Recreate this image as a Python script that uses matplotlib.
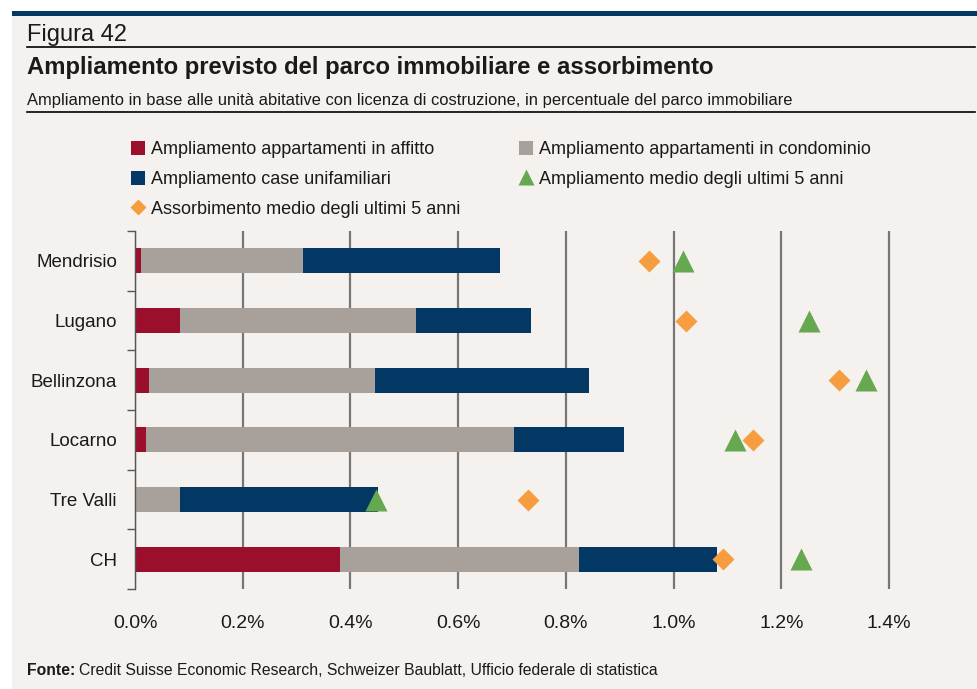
import numpy as np
import matplotlib.pyplot as plt
from matplotlib.patches import Patch, Rectangle
from matplotlib.lines import Line2D

plt.rcParams['font.family'] = ['Liberation Sans', 'DejaVu Sans']

W, H = 978, 689

# Data (percent of housing stock)
regions = ['Mendrisio', 'Lugano', 'Bellinzona', 'Locarno', 'Tre Valli', 'CH']
rental = [0.011, 0.084, 0.026, 0.020, 0.0, 0.381]
condo = [0.301, 0.438, 0.420, 0.684, 0.084, 0.443]
single = [0.366, 0.213, 0.397, 0.204, 0.367, 0.257]
growth_5y = [1.017, 1.252, 1.357, 1.114, 0.448, 1.236]
absorption_5y = [0.954, 1.023, 1.308, 1.148, 0.729, 1.091]
xticks = [0.0, 0.2, 0.4, 0.6, 0.8, 1.0, 1.2, 1.4]

labels = ['Ampliamento appartamenti in affitto',
          'Ampliamento appartamenti in condominio',
          'Ampliamento case unifamiliari',
          'Ampliamento medio degli ultimi 5 anni',
          'Assorbimento medio degli ultimi 5 anni']

# Colours
bg = '#f4f1ee'
red = '#9b0e2c'
grey = '#a8a19b'
navy = '#033764'
orange = '#f59d3f'
green = '#66a84f'
txt = '#1a1a1a'


def fx(px):
    return px / W


def fy(py):
    return 1 - py / H


fig = plt.figure(figsize=(W / 100, H / 100), dpi=100)
fig.patch.set_facecolor('white')

# Page background, top band and rules
fig.add_artist(Rectangle((fx(12), 0), 1, fy(16), transform=fig.transFigure,
                         facecolor=bg, edgecolor='none', zorder=0))
fig.add_artist(Rectangle((fx(12), fy(16)), 1, 5 / H, transform=fig.transFigure,
                         facecolor=navy, edgecolor='none', zorder=0))
for py in (47, 112):
    fig.add_artist(Line2D([fx(27), fx(975)], [fy(py), fy(py)], color='black',
                          lw=1.2, transform=fig.transFigure))

fig.text(fx(27), fy(41), 'Figura 42', fontsize=17, color=txt, va='baseline')
fig.text(fx(27), fy(74), 'Ampliamento previsto del parco immobiliare e assorbimento',
         fontsize=17.2, fontweight='bold', color=txt, va='baseline')
fig.text(fx(27), fy(105), 'Ampliamento in base alle unità abitative con licenza di '
         'costruzione, in percentuale del parco immobiliare',
         fontsize=11.9, color=txt, va='baseline')

# Chart
xmax = 1.403
ax = fig.add_axes([fx(135), fy(589), (889 - 135) / W * xmax / 1.4, (589 - 231) / H])
ax.set_facecolor('none')

y = np.arange(len(regions))
rental = np.array(rental)
condo = np.array(condo)
single = np.array(single)
bar_h = 0.42
ax.barh(y, rental, height=bar_h, color=red, zorder=3)
ax.barh(y, condo, left=rental, height=bar_h, color=grey, zorder=3)
ax.barh(y, single, left=rental + condo, height=bar_h, color=navy, zorder=3)
ax.plot(absorption_5y, y, ls='none', marker='D', ms=11.7, color=orange,
        mec='none', zorder=4)
ax.plot(growth_5y, y, ls='none', marker='^', ms=15.5, color=green,
        mec='none', zorder=4)

ax.set_xlim(0, xmax)
ax.set_ylim(len(regions) - 0.5, -0.5)
ax.set_xticks(xticks)
ax.set_xticklabels([f'{v:.1f}%' for v in xticks])
ax.set_yticks(y)
ax.set_yticklabels(regions)
ax.set_yticks(np.arange(-0.5, len(regions), 1), minor=True)

ax.grid(axis='x', color='#767676', lw=1.6, zorder=1)
ax.set_axisbelow(True)
for s in ('top', 'right', 'bottom'):
    ax.spines[s].set_visible(False)
ax.spines['left'].set_color('#555555')
ax.spines['left'].set_linewidth(1)
ax.spines['left'].set_zorder(5)

ax.tick_params(axis='x', length=0, pad=19, labelsize=14, labelcolor=txt)
ax.tick_params(axis='y', which='major', length=0, pad=13, labelsize=13.5,
               labelcolor=txt)
ax.tick_params(axis='y', which='minor', length=6, width=1, color='#555555')

# Legend in two columns
sq = dict(edgecolor='none')
col1 = [Patch(facecolor=red, **sq),
        Patch(facecolor=navy, **sq),
        Line2D([], [], ls='none', marker='D', ms=8.5, color=orange, mec='none')]
col2 = [Patch(facecolor=grey, **sq),
        Line2D([], [], ls='none', marker='^', ms=11, color=green, mec='none')]
lab1 = [labels[0], labels[2], labels[4]]
lab2 = [labels[1], labels[3]]
leg_kw = dict(loc='upper left', frameon=False, fontsize=13, borderpad=0,
              borderaxespad=0, handlelength=0.8, handleheight=0.8,
              handletextpad=0.3, labelspacing=0.7, labelcolor=txt)
fig.legend(col1, lab1, bbox_to_anchor=(fx(131), fy(141)), **leg_kw)
fig.legend(col2, lab2, bbox_to_anchor=(fx(519), fy(141)), **leg_kw)

# Source line
fig.canvas.draw()
src_b = fig.text(fx(27), fy(675), 'Fonte:', fontsize=11.3, fontweight='bold',
                 color=txt, va='baseline')
bb = src_b.get_window_extent(renderer=fig.canvas.get_renderer())
fig.text(bb.x1 / W + 4 / W, fy(675),
         'Credit Suisse Economic Research, Schweizer Baublatt, '
         'Ufficio federale di statistica',
         fontsize=11.3, color=txt, va='baseline')

fig.savefig('out.png', dpi=100, facecolor=fig.get_facecolor())
